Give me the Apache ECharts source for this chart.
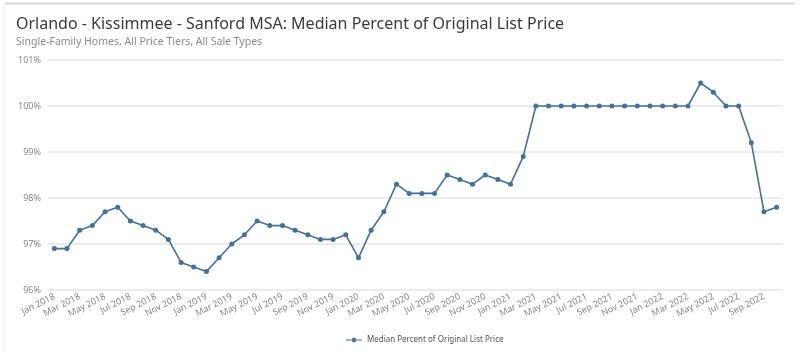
<!DOCTYPE html>
<html><head><meta charset="utf-8">
<script src="https://cdn.jsdelivr.net/npm/echarts@6/dist/echarts.min.js"></script>
<style>html,body{margin:0;padding:0;background:#fff}#c{width:800px;height:352px}</style>
</head><body><div id="c"></div>
<script>
const months = ['Jan','Feb','Mar','Apr','May','Jun','Jul','Aug','Sep','Oct','Nov','Dec'];
const categories = [];
for (let y = 2018; y <= 2022; y++) for (let m = 0; m < 12; m++) { if (y === 2022 && m > 9) break; categories.push(months[m] + ' ' + y); }
const values = [
  96.9, 96.9, 97.3, 97.4, 97.7, 97.8, 97.5, 97.4, 97.3, 97.1, 96.6, 96.5,
  96.4, 96.7, 97.0, 97.2, 97.5, 97.4, 97.4, 97.3, 97.2, 97.1, 97.1, 97.2,
  96.7, 97.3, 97.7, 98.3, 98.1, 98.1, 98.1, 98.5, 98.4, 98.3, 98.5, 98.4,
  98.3, 98.9, 100.0, 100.0, 100.0, 100.0, 100.0, 100.0, 100.0, 100.0, 100.0, 100.0,
  100.0, 100.0, 100.0, 100.5, 100.3, 100.0, 100.0, 99.2, 97.7, 97.8
];
const seriesName = 'Median Percent of Original List Price';
const titleText = 'Orlando - Kissimmee - Sanford MSA: Median Percent of Original List Price';
const subtitleText = 'Single-Family Homes, All Price Tiers, All Sale Types';
const font = '"Noto Sans", "Open Sans", sans-serif';
const chart = echarts.init(document.getElementById('c'), null, {renderer: 'canvas'});
chart.setOption({
  animation: false,
  backgroundColor: '#fff',
  textStyle: {fontFamily: font},
  title: {
    text: titleText, subtext: subtitleText, left: 11, top: 11, itemGap: 5,
    textStyle: {fontFamily: font, fontSize: 16, fontWeight: 'normal', color: '#3a3a3a'},
    subtextStyle: {fontFamily: font, fontSize: 10.5, color: '#8a8a8a'}
  },
  graphic: [
    {type: 'line', shape: {x1: 5, y1: 3.5, x2: 795, y2: 3.5}, style: {stroke: '#d8d8d8', lineWidth: 2}, silent: true},
    {type: 'line', shape: {x1: 4.5, y1: 4, x2: 4.5, y2: 352}, style: {stroke: '#f0f0f0', lineWidth: 1}, silent: true}
  ],
  legend: {
    bottom: 3, left: 341, itemWidth: 16, itemHeight: 8, itemGap: 7,
    data: [{name: seriesName, icon: 'path://M0,4 L6,4 A2,2 0 1 1 10,4 L16,4 L16,5 L10,5 A2,2 0 1 1 6,5 L0,5 Z'}],
    textStyle: {fontFamily: font, fontSize: 8, color: '#555'}
  },
  grid: {left: 48, right: 17, top: 60, bottom: 62},
  xAxis: {
    type: 'category', data: categories, boundaryGap: true,
    axisLine: {show: false}, axisTick: {show: false},
    axisLabel: {interval: 1, rotate: 27, fontSize: 9, color: '#888', margin: 6, fontFamily: font}
  },
  yAxis: {
    type: 'value', min: 96, max: 101, interval: 1,
    axisLine: {show: false}, axisTick: {show: false},
    axisLabel: {formatter: v => v + '%', fontSize: 9, color: '#888', margin: 7, fontFamily: font},
    splitLine: {lineStyle: {color: '#e6e6e6', width: 1.5}}
  },
  series: [{
    name: seriesName, type: 'line', data: values,
    symbol: 'circle', symbolSize: 5,
    lineStyle: {color: '#44709a', width: 1.6},
    itemStyle: {color: '#44709a'}
  }]
});
</script></body></html>
